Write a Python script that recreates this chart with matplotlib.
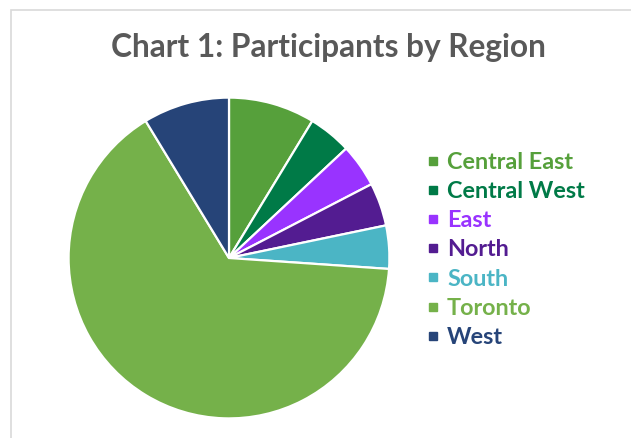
import matplotlib.pyplot as plt
from matplotlib.patches import Rectangle
from matplotlib.lines import Line2D

regions = ['Central East', 'Central West', 'East', 'North', 'South', 'Toronto', 'West']
participants = [2, 1, 1, 1, 1, 15, 2]
colors = ['#56a03b', '#007a47', '#9933ff', '#531c91', '#4bb5c5', '#75b14a', '#264478']

plt.rcParams['font.family'] = ['Lato', 'DejaVu Sans']

fig = plt.figure(figsize=(6.31, 4.38), dpi=100)

# light grey chart frame (only top and left show in the crop)
fig.add_artist(Rectangle((11 / 631, -0.1), 1.2, (438 - 10) / 438 + 0.1,
                         transform=fig.transFigure, fill=False,
                         edgecolor='#d9d9d9', linewidth=1.2))

ax = fig.add_axes([(229 - 162) / 631, (180 - 162) / 438, 324 / 631, 324 / 438])
wedges, _ = ax.pie(participants, colors=colors, startangle=90, counterclock=False,
                   wedgeprops=dict(edgecolor='white', linewidth=1.6))
ax.set_xlim(-1.01, 1.01)
ax.set_ylim(-1.01, 1.01)
ax.set_aspect('equal')

fig.text(328 / 631, 1 - 47 / 438, 'Chart 1: Participants by Region',
         ha='center', va='center', fontsize=22.8, fontweight='bold', color='#595959')

handles = [Line2D([], [], marker='s', linestyle='none', markersize=6,
                  markerfacecolor=c, markeredgecolor=c) for c in colors]
leg = fig.legend(handles, regions, loc='upper left',
                 bbox_to_anchor=(426 / 631, 1 - 152 / 438), frameon=False,
                 prop=dict(size=16.8, weight='bold'), labelcolor=colors,
                 handlelength=0.6, handletextpad=0.3, labelspacing=0.35,
                 borderpad=0, borderaxespad=0)

fig.savefig('out.png', dpi=100)
